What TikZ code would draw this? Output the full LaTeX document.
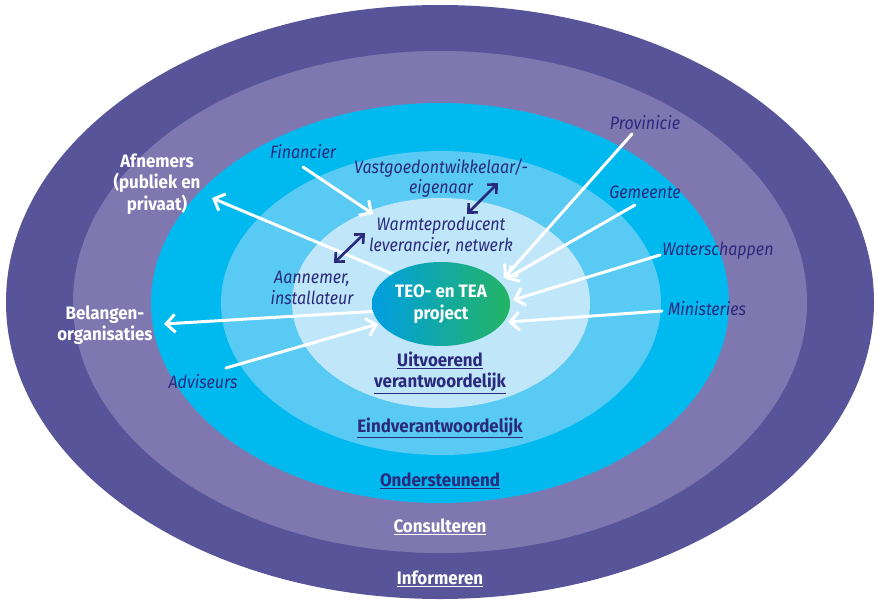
\documentclass[tikz,border=0pt]{standalone}
\usepackage{fontspec}
\setmainfont{Fira Sans}[FakeStretch=0.89]
\newfontfamily\boldfam{Fira Sans}[FakeStretch=0.94]
\usetikzlibrary{arrows.meta,shapes.geometric}
\definecolor{ringA}{RGB}{88,84,153}
\definecolor{ringB}{RGB}{127,120,176}
\definecolor{ringC}{RGB}{0,186,239}
\definecolor{ringD}{RGB}{88,202,244}
\definecolor{ringE}{RGB}{191,230,249}
\definecolor{navy}{RGB}{43,41,125}
\definecolor{teoblue}{RGB}{0,158,226}
\definecolor{teogreen}{RGB}{36,180,100}
\tikzset{
  lbl/.style={inner sep=0pt, font=\fontsize{18}{20.5}\selectfont\itshape, text=navy, align=center},
  wlbl/.style={inner sep=0pt, font=\boldfam\fontsize{18}{21.5}\selectfont\bfseries, text=white, align=center},
  ulbl/.style={inner sep=0pt, font=\boldfam\fontsize{18}{21}\selectfont\bfseries, text=navy, align=center},
  uwlbl/.style={inner sep=0pt, font=\boldfam\fontsize{18}{21}\selectfont\bfseries, text=white, align=center},
  warrow/.style={draw=white, line width=3pt, line cap=round, -{Straight Barb[length=9pt,width=18pt,line width=3pt]}},
  narrow/.style={draw=navy, line width=2.6pt, {Straight Barb[length=7pt,width=13pt,line width=2.6pt]}-{Straight Barb[length=7pt,width=13pt,line width=2.6pt]}}
}
\begin{document}
\begin{tikzpicture}[x=1pt,y=-1pt]
\useasboundingbox (0,0) rectangle (876,600);
% rings
\fill[ringA] (440,302) ellipse [x radius=434pt, y radius=297pt];
\fill[ringB] (440,302) ellipse [x radius=367pt, y radius=251pt];
\fill[ringC] (440,303) ellipse [x radius=289pt, y radius=200pt];
\fill[ringD] (441,303) ellipse [x radius=220pt, y radius=152pt];
\fill[ringE] (441,303) ellipse [x radius=149pt, y radius=105pt];

% labels
\node[lbl] (fin) at (303,152) {Financier};
\node[lbl] (vast) at (441,178) {Vastgoedontwikkelaar/-\\eigenaar};
\node[lbl] (warm) at (441,236) {Warmteproducent\\leverancier, netwerk};
\node[lbl] (aan) at (312,288) {Aannemer,\\installateur};
\node[lbl] (adv) at (203,382) {Adviseurs};
\node[lbl] (prov) at (645,123) {Provinicie};
\node[lbl] (gem) at (645,192) {Gemeente};
\node[lbl] (wat) at (718,251) {Waterschappen};
\node[lbl] (min) at (707,309) {Ministeries};
\node[wlbl] (afn) at (157,184) {Afnemers\\(publiek en\\privaat)};
\node[wlbl] (bel) at (105,325) {Belangen-\\organisaties};

\node[ulbl] (uit) at (440,373) {\underline{Uitvoerend}\\\underline{verantwoordelijk}};
\node[ulbl] (eind) at (440,428) {\underline{Eindverantwoordelijk}};
\node[ulbl] (ond) at (440,481) {\underline{Ondersteunend}};
\node[uwlbl] (cons) at (440,527) {\underline{Consulteren}};
\node[uwlbl] (inf) at (440,579) {\underline{Informeren}};

% arrow end points
\coordinate (afnT) at (212,198);
\coordinate (afnS) at (395,275);
\coordinate (belT) at (164,324);
\coordinate (belS) at (380,311);
\coordinate (finS) at (303,167);
\coordinate (finT) at (373,214);
\coordinate (advS) at (226,368);
\coordinate (advT) at (378,324);
\coordinate (provS) at (632,134);
\coordinate (provT) at (504,278);
\coordinate (gemS) at (635,205);
\coordinate (gemT) at (506,279);
\coordinate (watS) at (660,255);
\coordinate (watT) at (513,300);
\coordinate (minS) at (662,311);
\coordinate (minT) at (508,322);
\coordinate (vA) at (498,183);
\coordinate (vB) at (467,214);
\coordinate (aA) at (365,233);
\coordinate (aB) at (334,263);

\draw[warrow] (afnS) -- (afnT);
\draw[warrow] (belS) -- (belT);
\draw[warrow] (finS) -- (finT);
\draw[warrow] (advS) -- (advT);
\draw[warrow] (provS) -- (provT);
\draw[warrow] (gemS) -- (gemT);
\draw[warrow] (watS) -- (watT);
\draw[warrow] (minS) -- (minT);
\draw[narrow] (vA) -- (vB);
\draw[narrow] (aA) -- (aB);

% centre
\shade[left color=teoblue, right color=teogreen] (441,304) ellipse [x radius=69pt, y radius=42pt];
\node[wlbl] (teo) at (441,304) {TEO- en TEA\\project};
\end{tikzpicture}
\end{document}
